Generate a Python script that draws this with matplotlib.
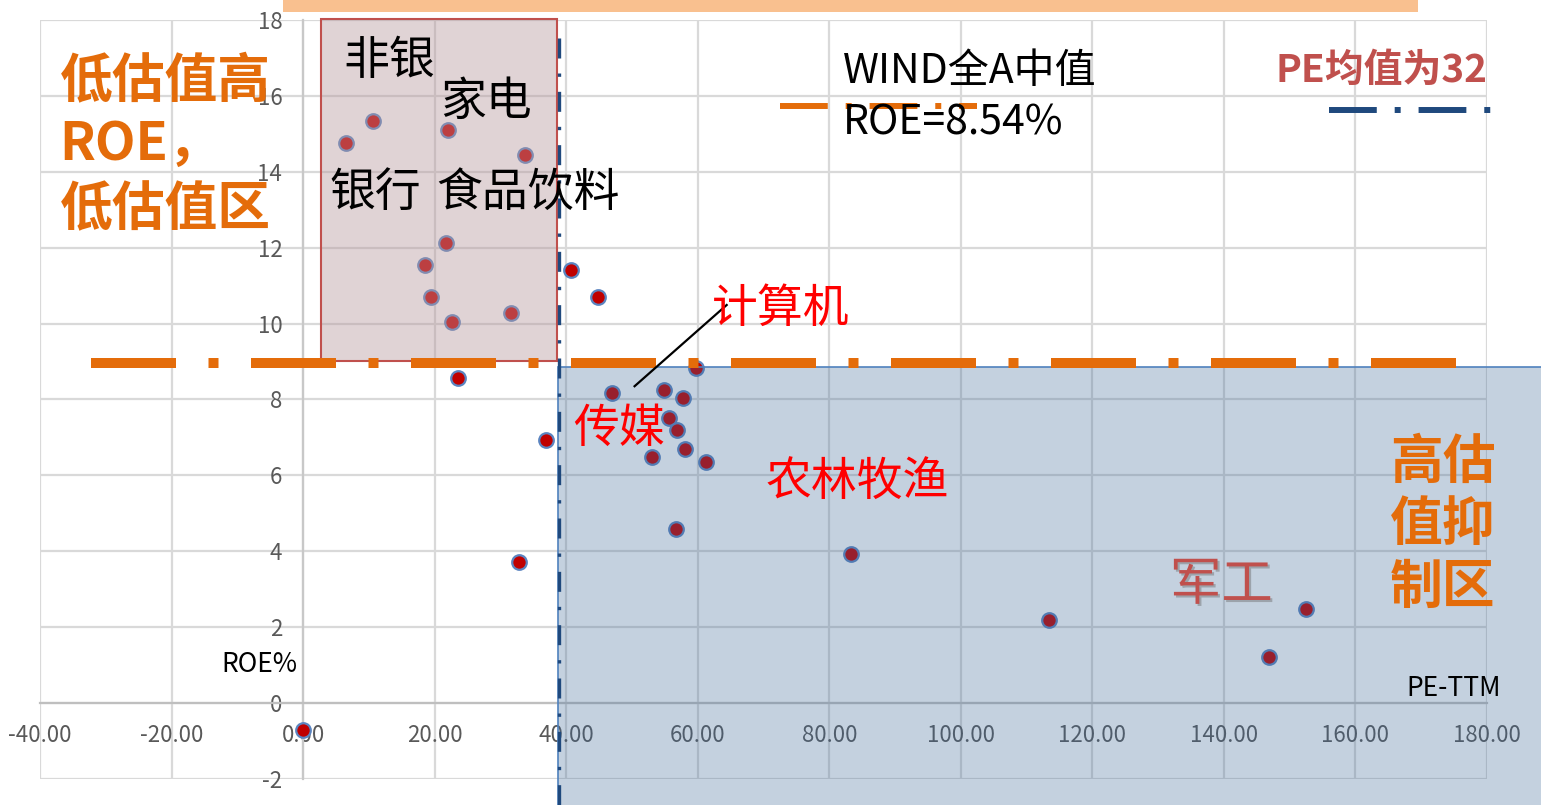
import numpy as np
import matplotlib
matplotlib.use("Agg")
import matplotlib.pyplot as plt
from matplotlib.patches import Rectangle
import matplotlib.patheffects as pe

plt.rcParams['font.family'] = ['Noto Sans CJK SC', 'DejaVu Sans']

# Industry valuation points: PE-TTM vs ROE (%)
pe_ttm = [6.5, 10.7, 22.1, 33.7, 21.8, 18.6, 19.4, 22.7, 31.6, 23.5,
          40.8, 44.8, 59.8, 46.9, 54.8, 57.7, 55.6, 56.8, 58.0, 53.0,
          61.2, 37.0, 56.7, 32.8, 83.3, 113.4, 146.9, 152.5, 0.0]
roe = [14.76, 15.34, 15.10, 14.44, 12.12, 11.54, 10.70, 10.04, 10.28, 8.56,
       11.41, 10.70, 8.83, 8.17, 8.25, 8.04, 7.51, 7.19, 6.69, 6.48,
       6.35, 6.93, 4.58, 3.72, 3.93, 2.19, 1.21, 2.48, -0.71]

x_ticks = list(range(-40, 181, 20))
y_ticks = list(range(-2, 19, 2))

# Reference lines (market median ROE and PE threshold)
roe_ref = 8.97
pe_ref = 38.9

ORANGE = '#e46c0a'
DARKBLUE = '#1f497d'

fig = plt.figure(figsize=(15.41, 8.05), dpi=100)
ax = fig.add_axes([40 / 1541, 1 - 779 / 805, (1487 - 40) / 1541, (779 - 20) / 805])
ax.set_xlim(-40, 180)
ax.set_ylim(-2, 18)
ax.set_xticks(x_ticks)
ax.set_xticklabels([f'{v:.2f}' for v in x_ticks])
ax.set_yticks(y_ticks)
ax.set_yticklabels([str(v) for v in y_ticks])
ax.set_axisbelow(True)
ax.grid(True, color='#d9d9d9', lw=1.6)
for g in ax.get_xgridlines() + ax.get_ygridlines():
    g.set_clip_on(False)
for s in ['top', 'right']:
    ax.spines[s].set_visible(False)
ax.spines['left'].set_position(('data', 0))
ax.spines['bottom'].set_position(('data', 0))
ax.spines['left'].set_color('#c8c8c8')
ax.spines['bottom'].set_color('#bfbfbf')
ax.spines['left'].set_linewidth(1.6)
ax.spines['bottom'].set_linewidth(1.6)
ax.tick_params(axis='both', length=0, labelsize=16, labelcolor='#595959')
ax.tick_params(axis='y', pad=15)
ax.tick_params(axis='x', pad=15)
ax.patch.set_alpha(0)

# Scatter points
ax.scatter(pe_ttm, roe, s=110, color='#c00000', edgecolors='#5b84c0',
           linewidths=1.6, zorder=3, clip_on=False)

# Low valuation / high ROE zone
ax.add_patch(Rectangle((2.66, roe_ref + 0.04), 38.55 - 2.66, 18.03 - roe_ref - 0.04,
                       facecolor=(183 / 255, 152 / 255, 157 / 255), alpha=0.42,
                       edgecolor='none', zorder=3.5, clip_on=False))
ax.add_patch(Rectangle((2.66, roe_ref + 0.04), 38.55 - 2.66, 18.03 - roe_ref - 0.04,
                       facecolor='none', edgecolor='#c0504d', lw=1.5,
                       zorder=3.6, clip_on=False))

# High valuation zone
ax.add_patch(Rectangle((pe_ref - 0.2, -3.5), 200, 8.85 + 3.5,
                       facecolor=(62 / 255, 105 / 255, 152 / 255), alpha=0.30,
                       edgecolor='none', zorder=3.5, clip_on=False))
ax.add_patch(Rectangle((pe_ref - 0.2, -3.5), 200, 8.85 + 3.5,
                       facecolor='none', edgecolor='#4f81bd', lw=1.2,
                       zorder=3.6, clip_on=False))

# Reference lines
ax.plot([-32.3, 175.4], [roe_ref, roe_ref], color=ORANGE, lw=7.2,
        linestyle=(0, (8.5, 3.25, 1.0, 3.25)), solid_capstyle='butt',
        dash_capstyle='butt', zorder=4, clip_on=False)
ax.plot([pe_ref, pe_ref], [17.52, -2.7], color=DARKBLUE, lw=2.4,
        linestyle=(0, (6, 4.5, 1, 4.5)), dash_capstyle='butt',
        zorder=4, clip_on=False)

# Line samples next to the reference notes
ax.plot([72.45, 102.4], [15.73, 15.73], color=ORANGE, lw=4.3,
        linestyle=(0, (8, 3, 1, 3)), dash_capstyle='butt', zorder=4, clip_on=False)
ax.plot([155.96, 180.6], [15.63, 15.63], color=DARKBLUE, lw=4.3,
        linestyle=(0, (8, 3, 1, 3)), dash_capstyle='butt', zorder=4, clip_on=False)

# Pointer line for 计算机
ax.plot([50.4, 64.4], [8.35, 10.49], color='black', lw=1.6, zorder=5)

# Zone titles
bold_kw = dict(color=ORANGE, fontsize=38, fontweight='bold', va='center', ha='left', zorder=6)
ax.text(-37.0, 16.36, '低估值高', **bold_kw)
ax.text(-37.0, 14.72, 'ROE，', **bold_kw)
ax.text(-37.0, 13.01, '低估值区', **bold_kw)
ax.text(165.3, 6.33, '高估', **bold_kw)
ax.text(165.3, 4.70, '值抑', **bold_kw)
ax.text(165.3, 3.04, '制区', **bold_kw)

# Industry labels
blk = dict(color='black', fontsize=33, va='center', ha='left', zorder=6)
ax.text(6.08, 16.92, '非银', **blk)
ax.text(20.9, 15.86, '家电', **blk)
ax.text(4.03, 13.44, '银行', **blk)
ax.text(20.3, 13.44, '食品饮料', **blk)

red = dict(color='#ff0000', fontsize=33, va='center', ha='left', zorder=6)
ax.text(62.1, 10.40, '计算机', **red)
ax.text(41.0, 7.24, '传媒', **red)
ax.text(70.3, 5.84, '农林牧渔', **red)

ax.text(131.8, 3.11, '军工', color='#c0504d', fontsize=37, va='center', ha='left',
        zorder=6, path_effects=[pe.SimplePatchShadow(offset=(1.5, -1.5), shadow_rgbFace='#6d6d6d',
                                                     alpha=0.45), pe.Normal()])

# Reference notes
ax.text(82.05, 16.63, 'WIND全A中值', color='black', fontsize=29.5, va='center', ha='left', zorder=6)
ax.text(82.05, 15.28, 'ROE=8.54%', color='black', fontsize=29.5, va='center', ha='left', zorder=6)
ax.text(147.9, 16.66, 'PE均值为32', color='#c0504d', fontsize=28, fontweight='bold',
        va='center', ha='left', zorder=6)

# Axis titles
ax.text(-12.4, 1.03, 'ROE%', color='black', fontsize=19, va='center', ha='left', zorder=6)
ax.text(167.7, 0.38, 'PE-TTM', color='black', fontsize=19, va='center', ha='left', zorder=6)

# Header bar
fig.patches.append(Rectangle((283 / 1541, 1 - 12 / 805), (1418 - 283) / 1541, 12 / 805,
                             transform=fig.transFigure, facecolor='#f9c08f',
                             edgecolor='none', zorder=10))

fig.savefig('out.png', dpi=100)
